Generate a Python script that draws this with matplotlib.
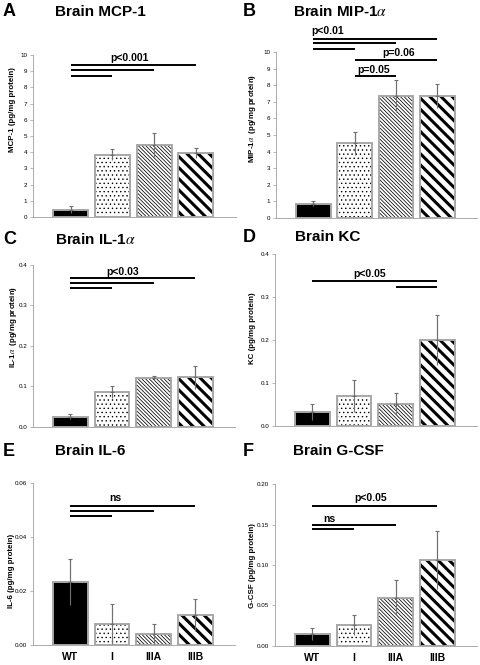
import numpy as np
import matplotlib
matplotlib.use('Agg')
import matplotlib.pyplot as plt

plt.rcParams['font.family'] = ['Liberation Sans', 'DejaVu Sans']
plt.rcParams['mathtext.fontset'] = 'stix'

W, H = 480, 665

groups = ['WT', 'I', 'IIIA', 'IIIB']

# bar heights and error (SEM) per panel
mcp1 = [0.45, 3.85, 4.45, 3.95]
mcp1_err = [0.2, 0.35, 0.75, 0.3]
mip1a = [0.85, 4.5, 7.35, 7.35]
mip1a_err = [0.15, 0.7, 0.95, 0.7]
il1a = [0.025, 0.086, 0.12, 0.122]
il1a_err = [0.007, 0.014, 0.005, 0.028]
kc = [0.033, 0.070, 0.051, 0.200]
kc_err = [0.018, 0.037, 0.026, 0.058]
il6 = [0.0233, 0.0077, 0.0040, 0.0111]
il6_err = [0.0085, 0.0074, 0.0037, 0.0060]
gcsf = [0.0145, 0.0256, 0.0595, 0.106]
gcsf_err = [0.008, 0.012, 0.0215, 0.036]

# significance bars: (from group, to group, y)
sig_a = [(0, 1, 8.73), (0, 2, 9.07), (0, 3, 9.38)]
sig_b = [(0, 3, 10.8), (0, 2, 10.54), (0, 1, 10.18), (1, 3, 9.5), (1, 2, 8.53)]
sig_c = [(0, 1, 0.344), (0, 2, 0.356), (0, 3, 0.369)]
sig_d = [(0, 3, 0.337), (2, 3, 0.324)]
sig_e = [(0, 1, 0.0476), (0, 2, 0.0495), (0, 3, 0.0513)]
sig_f = [(0, 3, 0.1736), (0, 2, 0.150), (0, 1, 0.1446)]

# p-value labels: (text, x, y, ha)
pv_a = [('p<0.001', 1.4, 9.8, 'center')]
pv_b = [('p<0.01', -0.05, 11.25, 'left'), ('p=0.06', 2.07, 9.94, 'center'),
        ('p=0.05', 1.46, 8.9, 'center')]
pv_c = [('p<0.03', 1.26, 0.383, 'center')]
pv_d = [('p<0.05', 1.37, 0.355, 'center')]
pv_e = [('ns', 1.07, 0.0544, 'center')]
pv_f = [('p<0.05', 1.4, 0.183, 'center'), ('ns', 0.4, 0.157, 'center')]

# bar styling: (facecolor, hatch, hatch linewidth)
styles = [('black', None, 1.0), ('white', '....', 0.5),
          ('white', '\\' * 9, 0.55), ('white', '\\\\\\', 2.2)]


def px(x, y):
    return x / W, 1 - y / H


panels = [
    # letter, title, ylabel, vals, errs, sigs, pvals, ymax, yticks, fmt, box(l, r, y0, ytop), label pos
    ('A', 'Brain MCP-1', 'MCP-1 (pg/mg protein)', mcp1, mcp1_err, sig_a, pv_a,
     10, np.arange(0, 11, 1), '%d', (33, 236, 217, 55), (3, 12, 55), (13, 110)),
    ('B', r'Brain MIP-1$\alpha$', r'MIP-1$\alpha$  (pg/mg protein)', mip1a, mip1a_err, sig_b, pv_b,
     10, np.arange(0, 11, 1), '%d', (276, 477, 218, 52), (243, 12, 293), (253, 118)),
    ('C', r'Brain IL-1$\alpha$', r'IL-1$\alpha$  (pg/mg protein)', il1a, il1a_err, sig_c, pv_c,
     0.4, np.arange(0, 0.41, 0.1), '%.1f', (33, 235, 426.7, 265), (3, 239, 55), (14, 327)),
    ('D', 'Brain KC', 'KC (pg/mg protein)', kc, kc_err, sig_d, pv_d,
     0.4, np.arange(0, 0.41, 0.1), '%.1f', (275, 477, 426, 254.3), (243, 237, 295), (252, 328)),
    ('E', 'Brain IL-6', 'IL-6 (pg/mg protein)', il6, il6_err, sig_e, pv_e,
     0.06, np.arange(0, 0.061, 0.02), '%.2f', (33, 235, 645, 483), (3, 451, 55), (12, 571)),
    ('F', 'Brain G-CSF', 'G-CSF (pg/mg protein)', gcsf, gcsf_err, sig_f, pv_f,
     0.20, np.arange(0, 0.201, 0.05), '%.2f', (275, 477, 645.7, 484.3), (243, 451, 293), (252, 566)),
]

fig = plt.figure(figsize=(W / 100, H / 100), dpi=100)
x = np.arange(len(groups))

for i, (letter, title, ylab, vals, errs, sigs, pvals, ymax, yt, fmt, box, lpos, ylpos) in enumerate(panels):
    l, r, y0, ytop = box
    ax = fig.add_axes([l / W, 1 - y0 / H, (r - l) / W, (y0 - ytop) / H])
    for j in range(4):
        fc, hatch, hlw = styles[j]
        with plt.rc_context({'hatch.linewidth': hlw}):
            b = ax.bar(x[j], vals[j], width=0.84, color=fc, hatch=hatch,
                       edgecolor='black', linewidth=0, zorder=2)
        for p in b:
            if hasattr(p, 'set_hatch_linewidth'):
                p.set_hatch_linewidth(hlw)
        ax.bar(x[j], vals[j], width=0.84, fill=False, edgecolor='#a8a8a8',
               linewidth=1.4, zorder=3)
    ax.errorbar(x, vals, yerr=errs, fmt='none', ecolor='#707070',
                elinewidth=0.8, capsize=0, zorder=4)
    ax.errorbar(x, vals, yerr=[np.zeros(4), errs], fmt='none', ecolor='#707070',
                elinewidth=0.8, capsize=1.5, capthick=0.8, zorder=4)

    ax.set_xlim(-0.9, 3.96)
    ax.set_ylim(0, ymax)
    ax.set_yticks(yt)
    ax.set_yticklabels([fmt % v for v in yt])
    ax.tick_params(axis='y', labelsize=4.5, length=2, width=0.5,
                   color='#999999', pad=2)
    for s in ['top', 'right']:
        ax.spines[s].set_visible(False)
    for s in ['left', 'bottom']:
        ax.spines[s].set_color('#aaaaaa')
        ax.spines[s].set_linewidth(0.7)
    if i >= 4:
        ax.set_xticks(x)
        ax.set_xticklabels(groups, fontsize=7.5, fontweight='bold')
        ax.tick_params(axis='x', length=0, pad=5)
    else:
        ax.set_xticks([])

    for a, bb, yy in sigs:
        ax.plot([x[a], x[bb]], [yy, yy], color='black', lw=1.4,
                clip_on=False, solid_capstyle='butt', zorder=5)
    for s, tx, ty, ha in pvals:
        ax.text(tx, ty, s, ha=ha, va='center', fontsize=7.5,
                fontweight='bold', clip_on=False)

    lx, ly, tx0 = lpos
    fig.text(*px(lx, ly), letter, fontsize=13, fontweight='bold',
             ha='left', va='center')
    fig.text(*px(tx0, ly), title, fontsize=11, fontweight='bold',
             ha='left', va='center')
    fig.text(*px(*ylpos), ylab, fontsize=5.7, fontweight='bold',
             rotation=90, ha='center', va='center')

fig.savefig('out.png', dpi=100)
